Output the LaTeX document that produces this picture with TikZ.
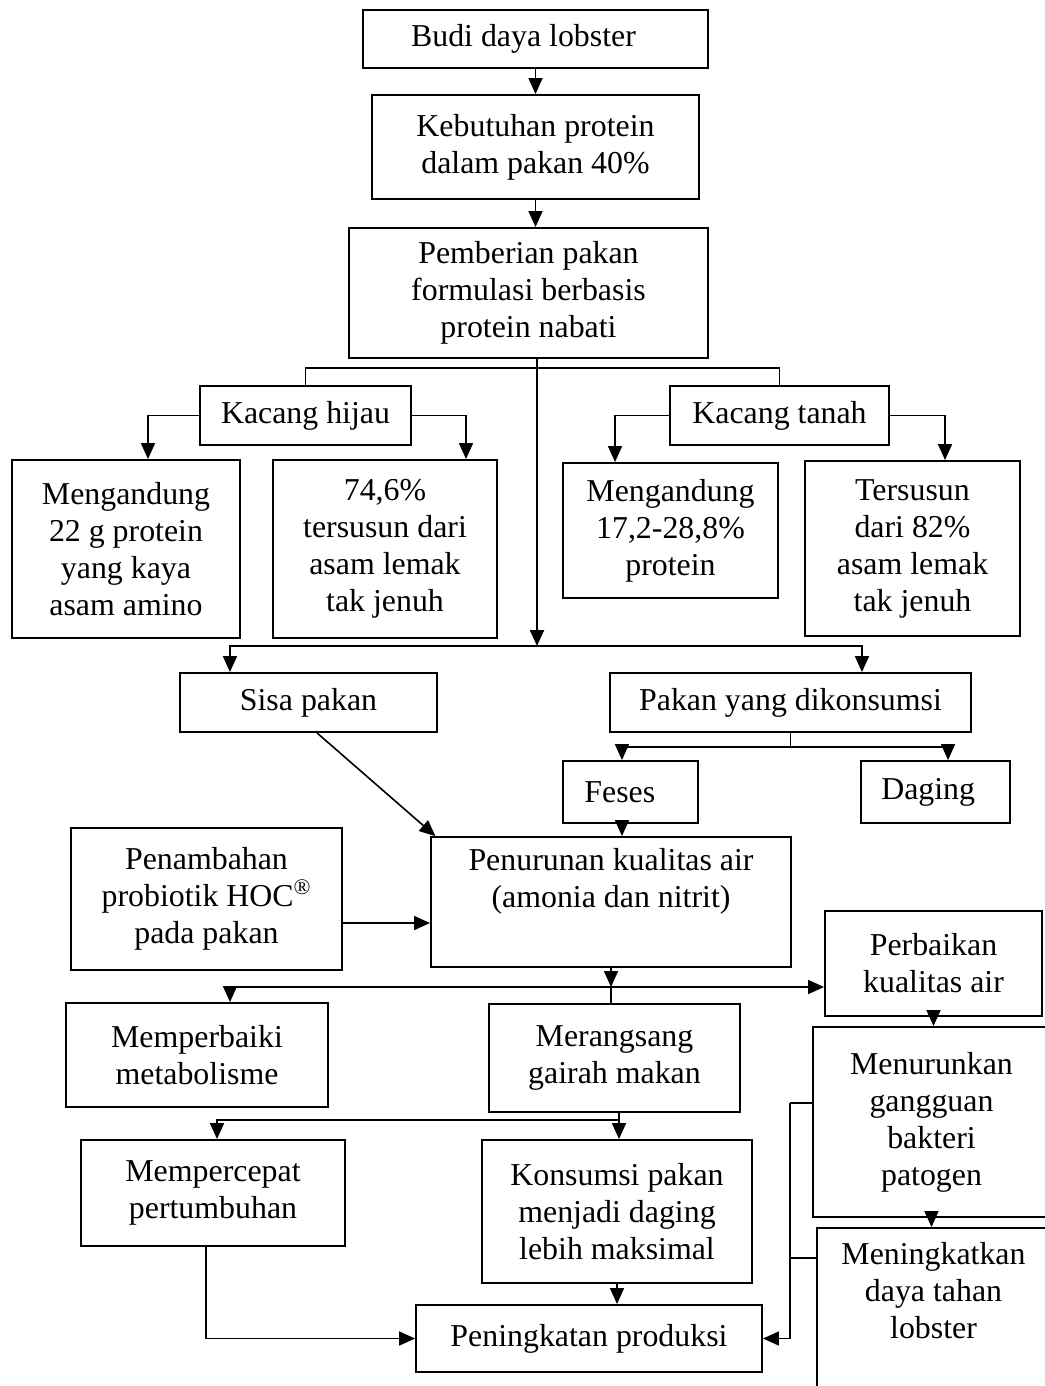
\documentclass[tikz,border=0pt]{standalone}
\usepackage{fontspec}
\setmainfont{Liberation Serif}
\usetikzlibrary{arrows.meta}
\newcommand\bx[6]{\node[box, minimum width={(#4-#2)*0.75pt}, minimum height={(#5-#3)*0.75pt}]
  (#1) at ({(#2+#4)/2},{(#3+#5)/2}) {#6};}
\begin{document}
\begin{tikzpicture}[x=0.75pt,y=-0.75pt,
  box/.style={draw, line width=1.4pt, inner sep=0pt, align=center,
    font=\fontsize{23.9}{27.75}\selectfont},
  arr/.style={line width=1.2pt, -{Triangle[width=10.5pt,length=12pt]}},
  bigarr/.style={line width=1.8pt, -{Triangle[width=10.5pt,length=12pt]}},
  thinline/.style={line width=1pt}]
\useasboundingbox (0,0) rectangle (1045,1386);
% boxes
\bx{budi}{363}{10}{708}{68}{Budi daya lobster\hspace*{18pt}}
\bx{keb}{372}{95}{699}{199}{Kebutuhan protein\\dalam pakan 40\%}
\bx{pem}{349}{228}{708}{358}{Pemberian pakan\\formulasi berbasis\\protein nabati}
\bx{kh}{200}{386}{411}{445}{Kacang hijau}
\bx{kt}{670}{386}{889}{445}{Kacang tanah}
\bx{m22}{12}{460}{240}{638}{Mengandung\\22 g protein\\yang kaya\\asam amino}
\bx{l74}{273}{460}{497}{638}{74,6\%\\tersusun dari\\asam lemak\\tak jenuh}
\bx{m17}{563}{463}{778}{598}{Mengandung\\17,2-28,8\%\\protein}
\bx{t82}{805}{461}{1020}{636}{Tersusun\\dari 82\%\\asam lemak\\tak jenuh}
\bx{sisa}{180}{673}{437}{732}{Sisa pakan}
\bx{pakan}{610}{673}{971}{732}{Pakan yang dikonsumsi}
\bx{feses}{563}{761}{698}{823}{Feses\hspace*{16pt}}
\bx{daging}{861}{761}{1010}{823}{Daging\hspace*{11pt}}
\bx{pnb}{71}{828}{342}{970}{Penambahan\\probiotik HOC\textsuperscript{®}\\pada pakan}
\bx{pen}{431}{837}{791}{967}{Penurunan kualitas air\\(amonia dan nitrit)\\\strut}
\bx{perb}{825}{911}{1042}{1016}{Perbaikan\\kualitas air}
\bx{mem}{66}{1003}{328}{1107}{Memperbaiki\\metabolisme}
\bx{mer}{489}{1004}{740}{1112}{Merangsang\\gairah makan}
\bx{menu}{813}{1027}{1050}{1217}{Menurunkan\\gangguan\\bakteri\\patogen}
\bx{ning}{817}{1228}{1050}{1400}{Meningkatkan\\daya tahan\\lobster\\\strut}
\bx{memp}{81}{1140}{345}{1246}{Mempercepat\\pertumbuhan}
\bx{kons}{482}{1140}{752}{1283}{Konsumsi pakan\\menjadi daging\\lebih maksimal}
\bx{pening}{416}{1305}{762}{1372}{Peningkatan produksi}
% connectors
\draw[arr] (budi) -- (keb);
\draw[arr] (keb.south) -- (keb.south |- pem.north);
\coordinate (j1) at (537,646);
\draw[bigarr] (pem.south -| j1) -- (j1);
\draw[thinline] (kh.north) -- ++(0,-17) -| (kt.north);
\draw[arr] (kh.west) -| ([xshift=16.5pt]m22.north);
\draw[arr] (kh.east) -| ([xshift=60.75pt]l74.north);
\draw[arr] (kt.west) -| ([xshift=-41.6pt]m17.north);
\draw[arr] (kt.east) -| ([xshift=24.4pt]t82.north);
\draw[arr] (j1) -| ([xshift=-58.9pt]sisa.north);
\draw[arr] (j1) -| ([xshift=53.6pt]pakan.north);
\draw[thinline] (pakan.south) -- ++(0,14) coordinate (j4);
\draw[arr] (j4) -| ([xshift=-6.4pt]feses.north);
\draw[arr] (j4) -| ([xshift=9.4pt]daging.north);
\draw[arr] ([xshift=-6.4pt]feses.south) -- ([xshift=-6.4pt]feses.south |- pen.north);
\draw[arr] ([xshift=6.4pt]sisa.south) -- ([xshift=4pt]pen.north west);
\draw[arr] ([yshift=-18pt]pnb.east) -- ([yshift=-18pt]pnb.east -| pen.west);
\coordinate (j2) at (611,987);
\draw[arr] (pen.south) -- (j2);
\draw[arr] (j2) -| ([xshift=24.75pt]mem.north);
\draw[thinline] (j2) -- (j2 |- mer.north);
\draw[arr] (j2) -- (j2 -| perb.west);
\draw[arr] (perb.south) -- (perb.south |- menu.north);
\draw[arr] (menu.south) -- (menu.south |- ning.north);
\coordinate (j3) at (619,1120);
\draw[thinline] (mer.south -| j3) -- (j3);
\draw[arr] (j3) -| ([xshift=3pt]memp.north);
\draw[arr] (j3) -- (j3 |- kons.north);
\draw[arr] ([xshift=-5.25pt]memp.south) |- (pening.west);
\draw[arr] (kons.south) -- (kons.south |- pening.north);
\draw[thinline] ([yshift=14.25pt]menu.west) -- ++(-22,0) coordinate (b1);
\draw[thinline] ([yshift=42pt]ning.west) -| (b1);
\draw[arr] (b1) |- (pening.east);
\end{tikzpicture}
\end{document}
